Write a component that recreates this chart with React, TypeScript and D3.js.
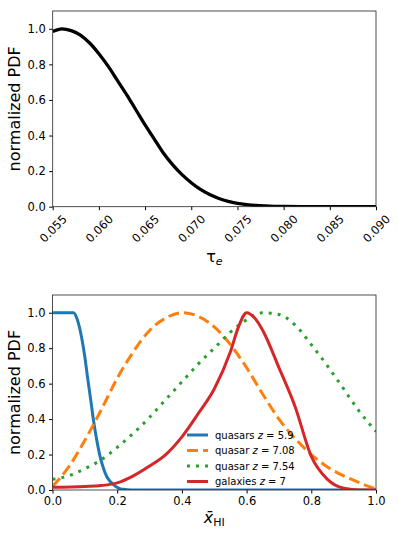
import React, { useEffect, useRef } from 'react'
import * as d3 from 'd3'

// top panel: tau_e posterior
const tauX = [0.055, 0.056, 0.057, 0.058, 0.059, 0.060, 0.061, 0.062, 0.063, 0.064, 0.065, 0.066, 0.067, 0.068, 0.069, 0.070, 0.071, 0.072, 0.073, 0.074, 0.075, 0.076, 0.077, 0.078, 0.079, 0.080, 0.082, 0.085, 0.090]
const tauPdf = [0.985, 1.0, 0.99, 0.965, 0.92, 0.86, 0.79, 0.71, 0.63, 0.545, 0.46, 0.38, 0.3, 0.235, 0.18, 0.135, 0.097, 0.068, 0.046, 0.03, 0.019, 0.012, 0.007, 0.004, 0.002, 0.001, 0.0003, 0.0, 0.0]
const tauTicks = [0.055, 0.060, 0.065, 0.070, 0.075, 0.080, 0.085, 0.090]

// bottom panel: neutral fraction
const xhiGrid = [0, 0.05, 0.1, 0.15, 0.2, 0.25, 0.3, 0.35, 0.4, 0.45, 0.5, 0.55, 0.6, 0.65, 0.7, 0.75, 0.8, 0.85, 0.9, 0.95, 1.0]
const quasar59X = [0, 0.03, 0.065, 0.075, 0.09, 0.1, 0.108, 0.118, 0.127, 0.137, 0.147, 0.158, 0.168, 0.18, 0.19, 0.2, 0.21, 0.23, 0.26, 0.4, 0.6, 0.8, 1.0]
const quasar59 = [1, 1, 1, 0.97, 0.86, 0.75, 0.64, 0.51, 0.39, 0.28, 0.19, 0.12, 0.075, 0.045, 0.028, 0.015, 0.006, 0.002, 0, 0, 0, 0, 0]
const quasar708 = [0.02, 0.13, 0.28, 0.45, 0.63, 0.78, 0.9, 0.97, 1.0, 0.98, 0.92, 0.82, 0.69, 0.54, 0.4, 0.29, 0.2, 0.13, 0.08, 0.04, 0.005]
const quasar754 = [0.06, 0.08, 0.12, 0.17, 0.24, 0.32, 0.41, 0.51, 0.61, 0.71, 0.8, 0.89, 0.96, 1.0, 0.99, 0.93, 0.82, 0.7, 0.57, 0.44, 0.33]
const galaxiesX = [0, 0.1, 0.15, 0.2, 0.25, 0.3, 0.35, 0.4, 0.45, 0.5, 0.55, 0.575, 0.6, 0.625, 0.65, 0.7, 0.75, 0.8, 0.85, 0.9, 0.95, 1.0]
const galaxies7 = [0.015, 0.02, 0.025, 0.04, 0.08, 0.135, 0.2, 0.3, 0.43, 0.57, 0.78, 0.92, 1.0, 0.97, 0.9, 0.69, 0.47, 0.19, 0.06, 0.01, 0.0, 0.0]
const xhiTicks = [0, 0.2, 0.4, 0.6, 0.8, 1.0]
const pdfTicks = [0, 0.2, 0.4, 0.6, 0.8, 1.0]

const series = [
  { name: 'quasars', z: '5.9', x: quasar59X, y: quasar59, color: '#1f77b4', dash: null },
  { name: 'quasar', z: '7.08', x: xhiGrid, y: quasar708, color: '#ff7f0e', dash: '11,5' },
  { name: 'quasar', z: '7.54', x: xhiGrid, y: quasar754, color: '#2ca02c', dash: '3,6' },
  { name: 'galaxies', z: '7', x: galaxiesX, y: galaxies7, color: '#d62728', dash: null },
]

const FONT = 'DejaVu Sans, sans-serif'
const TICK = 11.5

export default function App() {
  const ref = useRef<SVGSVGElement>(null)

  useEffect(() => {
    const svg = d3.select(ref.current)
    svg.selectAll('*').remove()

    // ---- top panel
    const top = { left: 52.7, right: 376, top: 11, bottom: 206.7 }
    const xT = d3.scaleLinear().domain([0.055, 0.09]).range([top.left, top.right])
    const yT = d3.scaleLinear().domain([0, 1.1]).range([top.bottom, top.top])

    const gT = svg.append('g')
    gT.append('defs').append('clipPath').attr('id', 'clipT').append('rect')
      .attr('x', top.left).attr('y', top.top).attr('width', top.right - top.left).attr('height', top.bottom - top.top)

    const pts = tauX.map((t, i) => [t, tauPdf[i]] as [number, number])
    gT.append('path')
      .datum(pts)
      .attr('clip-path', 'url(#clipT)')
      .attr('fill', 'none')
      .attr('stroke', '#000')
      .attr('stroke-width', 3.3)
      .attr('d', d3.line<[number, number]>().x(d => xT(d[0])).y(d => yT(d[1])).curve(d3.curveMonotoneX))

    const axT = gT.append('g').attr('transform', `translate(0,${top.bottom})`)
      .call(d3.axisBottom(xT).tickValues(tauTicks).tickSize(3.5).tickFormat(d3.format('.3f')))
    axT.select('.domain').remove()
    axT.selectAll('text')
      .attr('font-family', FONT).attr('font-size', TICK).attr('fill', '#000')
      .attr('text-anchor', 'middle').attr('dy', null).attr('y', 0)
      .attr('transform', 'translate(0,22) rotate(-45)')
      .attr('dominant-baseline', 'central')

    const ayT = gT.append('g').attr('transform', `translate(${top.left},0)`)
      .call(d3.axisLeft(yT).tickValues(pdfTicks).tickSize(3.5).tickPadding(3.5).tickFormat(d3.format('.1f')))
    ayT.select('.domain').remove()
    ayT.selectAll('text').attr('font-family', FONT).attr('font-size', TICK).attr('fill', '#000')

    gT.append('rect').attr('x', top.left).attr('y', top.top)
      .attr('width', top.right - top.left).attr('height', top.bottom - top.top)
      .attr('fill', 'none').attr('stroke', '#222').attr('stroke-width', 0.8)

    gT.append('text').attr('transform', `translate(20,${(top.top + top.bottom) / 2}) rotate(-90)`)
      .attr('text-anchor', 'middle').attr('font-family', FONT).attr('font-size', 16)
      .text('normalized PDF')

    const tl = gT.append('text').attr('x', (top.left + top.right) / 2).attr('y', 262)
      .attr('text-anchor', 'middle').attr('font-family', FONT).attr('font-size', 16)
    tl.append('tspan').text('τ')
    tl.append('tspan').attr('font-size', 11).attr('font-style', 'italic').attr('dy', 3).text('e')

    // ---- bottom panel
    const bot = { left: 52.5, right: 376, top: 295, bottom: 490 }
    const xB = d3.scaleLinear().domain([0, 1]).range([bot.left, bot.right])
    const yB = d3.scaleLinear().domain([0, 1.1]).range([bot.bottom, bot.top])

    const gB = svg.append('g')
    gB.append('defs').append('clipPath').attr('id', 'clipB').append('rect')
      .attr('x', bot.left).attr('y', bot.top).attr('width', bot.right - bot.left).attr('height', bot.bottom - bot.top)

    const line = d3.line<[number, number]>().x(d => xB(d[0])).y(d => yB(d[1])).curve(d3.curveMonotoneX)
    series.forEach(s => {
      gB.append('path')
        .datum(s.x.map((v, i) => [v, s.y[i]] as [number, number]))
        .attr('clip-path', 'url(#clipB)')
        .attr('fill', 'none')
        .attr('stroke', s.color)
        .attr('stroke-width', 3)
        .attr('stroke-dasharray', s.dash)
        .attr('d', line)
    })

    const axB = gB.append('g').attr('transform', `translate(0,${bot.bottom})`)
      .call(d3.axisBottom(xB).tickValues(xhiTicks).tickSize(3.5).tickPadding(3.5).tickFormat(d3.format('.1f')))
    axB.select('.domain').remove()
    axB.selectAll('text').attr('font-family', FONT).attr('font-size', TICK).attr('fill', '#000')

    const ayB = gB.append('g').attr('transform', `translate(${bot.left},0)`)
      .call(d3.axisLeft(yB).tickValues(pdfTicks).tickSize(3.5).tickPadding(3.5).tickFormat(d3.format('.1f')))
    ayB.select('.domain').remove()
    ayB.selectAll('text').attr('font-family', FONT).attr('font-size', TICK).attr('fill', '#000')

    gB.append('rect').attr('x', bot.left).attr('y', bot.top)
      .attr('width', bot.right - bot.left).attr('height', bot.bottom - bot.top)
      .attr('fill', 'none').attr('stroke', '#222').attr('stroke-width', 0.8)

    gB.append('text').attr('transform', `translate(20,${(bot.top + bot.bottom) / 2}) rotate(-90)`)
      .attr('text-anchor', 'middle').attr('font-family', FONT).attr('font-size', 16)
      .text('normalized PDF')

    const bl = gB.append('text').attr('x', (bot.left + bot.right) / 2).attr('y', 523)
      .attr('text-anchor', 'middle').attr('font-family', FONT).attr('font-size', 16)
    bl.append('tspan').attr('font-style', 'italic').text('x\u0304')
    bl.append('tspan').attr('font-size', 11).attr('dy', 3).text('HI')

    // legend
    const leg = gB.append('g').attr('transform', 'translate(187,435)')
    series.forEach((s, i) => {
      const row = leg.append('g').attr('transform', `translate(0,${i * 15.5})`)
      row.append('line').attr('x1', 0).attr('x2', 21).attr('y1', 0).attr('y2', 0)
        .attr('stroke', s.color).attr('stroke-width', 3).attr('stroke-dasharray', s.dash)
      const t = row.append('text').attr('x', 28).attr('y', 0).attr('dy', '0.35em')
        .attr('font-family', FONT).attr('font-size', 10).attr('fill', '#000')
      t.append('tspan').text(s.name + ' ')
      t.append('tspan').attr('font-style', 'italic').text('z')
      t.append('tspan').text(' = ' + s.z)
    })
  }, [])

  return (
    <svg ref={ref} width={399} height={536}
      style={{ position: 'absolute', left: 0, top: 0, background: '#fff' }} />
  )
}
